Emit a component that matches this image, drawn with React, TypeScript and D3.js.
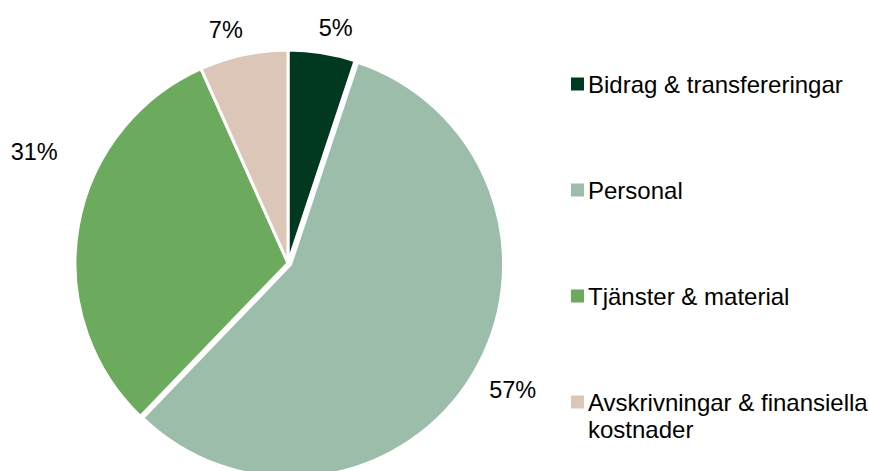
import React from "react";
import * as d3 from "d3";

const categories = [
  "Bidrag & transfereringar",
  "Personal",
  "Tjänster & material",
  "Avskrivningar & finansiella kostnader",
];
const shares = [5.1, 57.1, 31.1, 6.7];
const legendLines = [
  ["Bidrag & transfereringar"],
  ["Personal"],
  ["Tjänster & material"],
  ["Avskrivningar & finansiella", "kostnader"],
];
const colors = ["#003820", "#9bbdaa", "#6caa5e", "#dbc6b7"];

// label placement tweaks (degrees off the slice middle, radius)
const labelTurn = [2.3, -1.7, 13.7, -2.9];
const labelRadius = [240, 258, 277, 241];
const explode = [0, 3, 0, 0];

const W = 869;
const H = 471;
const cx = 288;
const cy = 263;
const R = 213;

export default function App() {
  const pie = d3
    .pie<number>()
    .sort(null)
    .value((d) => d);
  const arcs = pie(shares);
  const arc = d3.arc<d3.PieArcDatum<number>>().innerRadius(0).outerRadius(R);

  const legendY = d3
    .scalePoint<string>()
    .domain(categories)
    .range([84, 402]);

  return (
    <svg
      width={W}
      height={H}
      style={{ position: "absolute", left: 0, top: 0 }}
      fontFamily="Arial, 'Liberation Sans', sans-serif"
    >
      <g transform={`translate(${cx},${cy})`}>
        {arcs.map((a, i) => {
          const mid = (a.startAngle + a.endAngle) / 2;
          const ox = Math.sin(mid) * explode[i];
          const oy = -Math.cos(mid) * explode[i];
          return (
            <path
              key={i}
              d={arc(a) || ""}
              transform={`translate(${ox},${oy})`}
              fill={colors[i]}
              stroke="#fff"
              strokeWidth={3}
              strokeLinejoin="miter"
            />
          );
        })}
        {arcs.map((a, i) => {
          const ang = (a.startAngle + a.endAngle) / 2 + (labelTurn[i] * Math.PI) / 180;
          const x = Math.sin(ang) * labelRadius[i];
          const y = -Math.cos(ang) * labelRadius[i];
          return (
            <text
              key={i}
              x={x}
              y={y + 8}
              textAnchor="middle"
              fontSize={23.5}
              fill="#000"
            >
              {Math.round(a.data)}%
            </text>
          );
        })}
      </g>
      <g>
        {categories.map((c, i) => {
          const y = legendY(c) || 0;
          return (
            <g key={c}>
              <rect x={571} y={y - 6.5} width={13} height={13} fill={colors[i]} />
              {legendLines[i].map((line, j) => (
                <text
                  key={j}
                  x={588}
                  y={y + 8.5 + j * 27}
                  fontSize={24}
                  fill="#000"
                >
                  {line}
                </text>
              ))}
            </g>
          );
        })}
      </g>
    </svg>
  );
}
